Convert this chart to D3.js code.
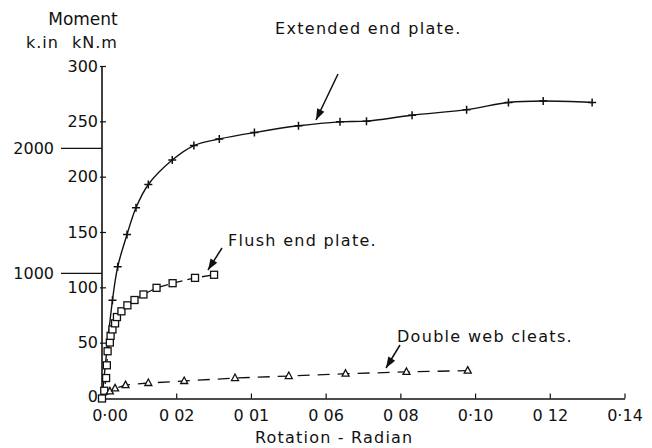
<!DOCTYPE html>
<html><head><meta charset="utf-8">
<script src="https://cdn.jsdelivr.net/npm/d3@7"></script>
<style>
body{margin:0;background:#fff;}
text{font-family:"DejaVu Sans",sans-serif;fill:#111;}
</style></head>
<body><svg id="c" width="652" height="448"></svg>
<script>
// ---- data (rotation in radians, moment in kN.m) ----
const extendedRot = [0, 0.0028, 0.0042, 0.0067, 0.0091, 0.0124, 0.0188, 0.0246, 0.0314, 0.0408, 0.0526, 0.0637, 0.0708, 0.083, 0.0976, 0.1088, 0.1181, 0.1312];
const extendedMom = [0, 88.8, 119, 148.2, 172.4, 193.4, 215.5, 228.6, 234.5, 240.3, 246.4, 250, 250.6, 256, 261, 267.5, 268.8, 267.5];
const flushRot = [0, 0.0006, 0.0011, 0.0013, 0.0015, 0.0021, 0.0023, 0.0028, 0.0035, 0.004, 0.0052, 0.0068, 0.0087, 0.0111, 0.0146, 0.0189, 0.0249, 0.030];
const flushMom = [0, 7, 18.5, 30, 42.7, 50.6, 56.6, 62.4, 67.9, 73.6, 78.8, 84.2, 89, 94, 100, 104.2, 109, 111.8];
const cleatRot = [0, 0.0021, 0.0035, 0.0063, 0.0124, 0.022, 0.0356, 0.05, 0.0652, 0.0815, 0.0979];
const cleatMom = [0, 6.4, 9.1, 12.1, 14, 15.8, 18.5, 20.3, 22.4, 24, 25.2];
const xTickValues = [0, 0.02, 0.04, 0.06, 0.08, 0.10, 0.12, 0.14];
const xTickLabels = ["0·00", "0 02", "0 01", "0 06", "0 08", "0·10", "0 12", "0·14"];
const yTickValues = [0, 50, 100, 150, 200, 250, 300];
const kinTicks = [1000, 2000];        // k.in secondary scale
const kinToKNm = 0.113;
const seriesLabels = ["Extended end plate.", "Flush end plate.", "Double web cleats."];

const svg = d3.select("#c");
const x = d3.scaleLinear().domain([0, 0.14]).range([102, 625]);
const y = d3.scaleLinear().domain([0, 300]).range([398.5, 66.5]);
const ink = "#111";

// axes
svg.append("line").attr("x1", x(0)).attr("x2", x(0)).attr("y1", y(300)).attr("y2", y(0)+1).attr("stroke", ink).attr("stroke-width", 1.6);
svg.append("line").attr("x1", x(0)).attr("x2", x(0.14)).attr("y1", y(0)+0.5).attr("y2", y(0)+0.5).attr("stroke", ink).attr("stroke-width", 1.6);

// y ticks
yTickValues.forEach(v => {
  svg.append("line").attr("x1", x(0)-2).attr("x2", x(0)+4).attr("y1", y(v)).attr("y2", y(v)).attr("stroke", ink).attr("stroke-width", 1.2);
  svg.append("text").attr("x", 98).attr("y", y(v) + (v === 0 ? 3 : 5)).attr("text-anchor", "end").attr("font-size", 16).text(v);
});
// k.in scale
kinTicks.forEach(v => {
  const yy = y(v * kinToKNm);
  svg.append("line").attr("x1", 61).attr("x2", x(0)).attr("y1", yy).attr("y2", yy).attr("stroke", ink).attr("stroke-width", 1.2);
  svg.append("text").attr("x", 54).attr("y", yy+6).attr("text-anchor", "end").attr("font-size", 16).text(v);
});
// x ticks
xTickValues.forEach((v, i) => {
  svg.append("line").attr("x1", x(v)).attr("x2", x(v)).attr("y1", y(0)).attr("y2", y(0)-5).attr("stroke", ink).attr("stroke-width", 1.2);
  svg.append("text").attr("x", x(v) + (i === 0 ? 8 : 0)).attr("y", 420.5).attr("text-anchor", "middle").attr("font-size", 16).text(xTickLabels[i]);
});

// titles
svg.append("text").attr("x", 83).attr("y", 25).attr("text-anchor", "middle").attr("font-size", 17).text("Moment");
svg.append("text").attr("x", 26).attr("y", 48).attr("font-size", 16).attr("letter-spacing", 1).text("k.in");
svg.append("text").attr("x", 72).attr("y", 48).attr("font-size", 16).attr("letter-spacing", 1).text("kN.m");
svg.append("text").attr("x", 255).attr("y", 443).attr("font-size", 16).attr("letter-spacing", 1.2).text("Rotation - Radian");

// lines
const mk = (rs, ms) => rs.map((r, i) => [r, ms[i]]);
const ext = mk(extendedRot, extendedMom), fl = mk(flushRot, flushMom), cl = mk(cleatRot, cleatMom);
const line = d3.line().x(d => x(d[0])).y(d => y(d[1]));
svg.append("path").datum(ext).attr("d", line.curve(d3.curveCatmullRom.alpha(0.5))).attr("fill", "none").attr("stroke", ink).attr("stroke-width", 1.4);
svg.append("path").datum(fl).attr("d", d3.line().x(d => x(d[0])).y(d => y(d[1])).curve(d3.curveLinear)).attr("fill", "none").attr("stroke", ink).attr("stroke-width", 1.3).attr("stroke-dasharray", "10,5");
svg.append("path").datum(cl).attr("d", d3.line().x(d => x(d[0])).y(d => y(d[1])).curve(d3.curveLinear)).attr("fill", "none").attr("stroke", ink).attr("stroke-width", 1.3).attr("stroke-dasharray", "12,8");

// markers
ext.slice(1).forEach(d => {
  const cx = x(d[0]), cy = y(d[1]);
  svg.append("path").attr("d", `M${cx-4},${cy}H${cx+4}M${cx},${cy-4}V${cy+4}`).attr("stroke", ink).attr("stroke-width", 1.5);
});
fl.forEach(d => {
  svg.append("rect").attr("x", x(d[0])-3.5).attr("y", y(d[1])-3.5).attr("width", 7).attr("height", 7).attr("fill", "#fff").attr("stroke", ink).attr("stroke-width", 1.3);
});
cl.slice(1).forEach(d => {
  const cx = x(d[0]), cy = y(d[1]);
  svg.append("path").attr("d", `M${cx},${cy-4}L${cx+3.5},${cy+2.5}L${cx-3.5},${cy+2.5}Z`).attr("fill", "#fff").attr("stroke", ink).attr("stroke-width", 1.3);
});

// annotations
function arrow(x1, y1, x2, y2) {
  svg.append("line").attr("x1", x1).attr("y1", y1).attr("x2", x2).attr("y2", y2).attr("stroke", ink).attr("stroke-width", 1.5);
  const a = Math.atan2(y2 - y1, x2 - x1), L = 11, W = 4;
  const bx = x2 - L * Math.cos(a), by = y2 - L * Math.sin(a);
  const px = -Math.sin(a) * W, py = Math.cos(a) * W;
  svg.append("path").attr("d", `M${x2},${y2}L${bx+px},${by+py}L${bx-px},${by-py}Z`).attr("fill", ink);
}
svg.append("text").attr("x", 275).attr("y", 34).attr("font-size", 16).attr("letter-spacing", 1.3).text(seriesLabels[0]);
arrow(338, 74, 316, 120);
svg.append("text").attr("x", 228).attr("y", 246).attr("font-size", 16).attr("letter-spacing", 1.3).text(seriesLabels[1]);
arrow(222, 248, 208, 270);
svg.append("text").attr("x", 397).attr("y", 342).attr("font-size", 16).attr("letter-spacing", 1.3).text(seriesLabels[2]);
arrow(400, 345, 386, 368);
</script></body></html>
